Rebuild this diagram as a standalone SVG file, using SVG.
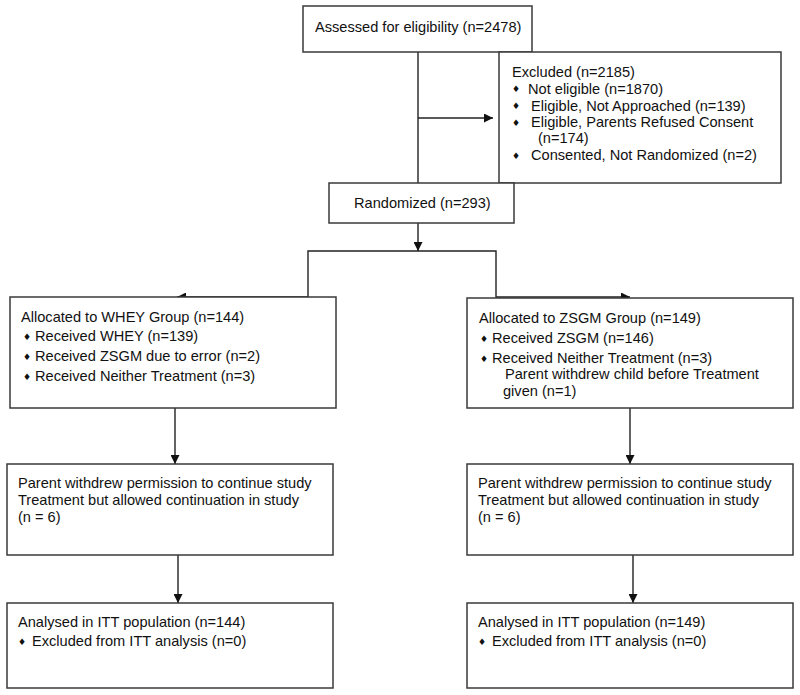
<svg xmlns="http://www.w3.org/2000/svg" width="800" height="695" viewBox="0 0 800 695">
<style>
  .box { fill: #fff; stroke: #3a3a3a; stroke-width: 1.5; }
  .t { font-family: "Liberation Sans", Arial, sans-serif; font-size: 14.6px; fill: #111; }
  .b { font-family: "DejaVu Sans", sans-serif; font-size: 9px; fill: #111; }
  .ln { fill: none; stroke: #222; stroke-width: 1.4; }
</style>
<defs>
  <marker id="ah" viewBox="0 0 10 10" refX="10" refY="5" markerWidth="9" markerHeight="9" markerUnits="userSpaceOnUse" orient="auto">
    <path d="M0,0 L10,5 L0,10 z" fill="#111"/>
  </marker>
</defs>
<rect width="800" height="695" fill="#fff"/>

<g id="connectors">
  <line class="ln" x1="418" y1="52" x2="418" y2="183"/>
  <line class="ln" x1="418" y1="118" x2="493" y2="118" marker-end="url(#ah)"/>
  <line class="ln" x1="418" y1="223" x2="418" y2="251" marker-end="url(#ah)"/>
  <polyline class="ln" points="418,251 308,251 308,297 177,297" marker-end="url(#ah)"/>
  <polyline class="ln" points="418,251 496,251 496,297 630,297" marker-end="url(#ah)"/>
  <line class="ln" x1="175" y1="408" x2="175" y2="464" marker-end="url(#ah)"/>
  <line class="ln" x1="178" y1="555" x2="178" y2="603" marker-end="url(#ah)"/>
  <line class="ln" x1="630" y1="408" x2="630" y2="464" marker-end="url(#ah)"/>
  <line class="ln" x1="633" y1="555" x2="633" y2="603" marker-end="url(#ah)"/>
</g>

<g id="assessed">
  <rect class="box" x="303" y="6" width="229" height="46"/>
  <text class="t" x="315" y="32">Assessed for eligibility (n=2478)</text>
</g>

<g id="excluded">
  <rect class="box" x="499" y="52" width="282" height="131"/>
  <text class="t" x="512" y="77">Excluded (n=2185)</text>
  <text class="b" x="512" y="92">♦</text>
  <text class="t" x="528" y="94">Not eligible (n=1870)</text>
  <text class="b" x="512" y="109">♦</text>
  <text class="t" x="531" y="111">Eligible, Not Approached (n=139)</text>
  <text class="b" x="512" y="126">♦</text>
  <text class="t" x="531" y="127">Eligible, Parents Refused Consent</text>
  <text class="t" x="538" y="143">(n=174)</text>
  <text class="b" x="512" y="159">♦</text>
  <text class="t" x="531" y="160">Consented, Not Randomized (n=2)</text>
</g>

<g id="randomized">
  <rect class="box" x="329" y="183" width="185" height="40"/>
  <text class="t" x="354" y="208">Randomized (n=293)</text>
</g>

<g id="whey">
  <rect class="box" x="10" y="297" width="326" height="111"/>
  <text class="t" x="21" y="322">Allocated to WHEY Group (n=144)</text>
  <text class="b" x="23" y="340">♦</text>
  <text class="t" x="35" y="341">Received WHEY (n=139)</text>
  <text class="b" x="23" y="360">♦</text>
  <text class="t" x="35" y="361">Received ZSGM due to error (n=2)</text>
  <text class="b" x="23" y="380">♦</text>
  <text class="t" x="35" y="381">Received Neither Treatment (n=3)</text>
</g>

<g id="zsgm">
  <rect class="box" x="467" y="298" width="326" height="110"/>
  <text class="t" x="479" y="323">Allocated to ZSGM Group (n=149)</text>
  <text class="b" x="480" y="342">♦</text>
  <text class="t" x="492" y="343">Received ZSGM (n=146)</text>
  <text class="b" x="480" y="362">♦</text>
  <text class="t" x="492" y="363">Received Neither Treatment (n=3)</text>
  <text class="t" x="505" y="379">Parent withdrew child before Treatment</text>
  <text class="t" x="503" y="396">given (n=1)</text>
</g>

<g id="whey-withdrew">
  <rect class="box" x="7" y="464" width="326" height="91"/>
  <text class="t" x="18" y="488">Parent withdrew permission to continue study</text>
  <text class="t" x="18" y="505">Treatment but allowed continuation in study</text>
  <text class="t" x="18" y="522">(n = 6)</text>
</g>

<g id="zsgm-withdrew">
  <rect class="box" x="467" y="464" width="326" height="91"/>
  <text class="t" x="478" y="488">Parent withdrew permission to continue study</text>
  <text class="t" x="478" y="505">Treatment but allowed continuation in study</text>
  <text class="t" x="478" y="522">(n = 6)</text>
</g>

<g id="whey-itt">
  <rect class="box" x="7" y="603" width="326" height="85"/>
  <text class="t" x="18" y="627">Analysed in ITT population (n=144)</text>
  <text class="b" x="18" y="645">♦</text>
  <text class="t" x="32" y="646">Excluded from ITT analysis (n=0)</text>
</g>

<g id="zsgm-itt">
  <rect class="box" x="467" y="603" width="326" height="85"/>
  <text class="t" x="478" y="627">Analysed in ITT population (n=149)</text>
  <text class="b" x="478" y="645">♦</text>
  <text class="t" x="492" y="646">Excluded from ITT analysis (n=0)</text>
</g>
</svg>
